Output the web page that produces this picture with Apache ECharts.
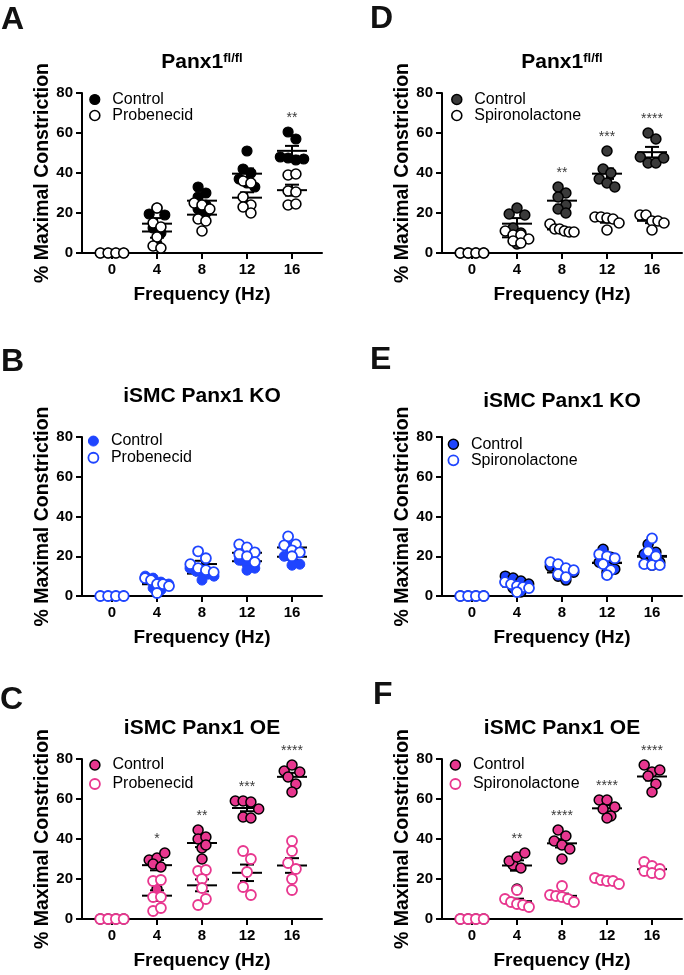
<!DOCTYPE html>
<html>
<head>
<meta charset="utf-8">
<script src="https://cdn.jsdelivr.net/npm/echarts@6/dist/echarts.min.js"></script>
<style>
html,body{margin:0;padding:0;background:#fff;}
#chart{width:684px;height:975px;}
</style>
</head>
<body>
<div id="chart"></div>
<script>
// ---------------- DATA ----------------
const freqs = [0, 4, 8, 12, 16];
const yTicks = [0, 20, 40, 60, 80];

// Panel A: Panx1 fl/fl, Control vs Probenecid (values per frequency)
const A_control    = [[0,0,0,0],[19.5,22.5,19,12.5,10,4.5],[33,30,28,24,22,20],[51,42,40,37,35,33],[60.5,57,48,47.5,46.5,47]];
const A_probenecid = [[0,0,0,0],[22.5,15,13,8,3.5,2.5],[25,24,22,17,16,11],[36,35,28,24,23,20],[39,39.5,31,30.5,24,24.5]];
const A_sig        = ['', '', '', '', '**'];

// Panel D: Panx1 fl/fl, Control vs Spironolactone
const D_control        = [[0,0,0,0],[19.5,22.5,19,12.5,10,4.5],[33,30,28,24,22,20],[51,42,40,37,35,33],[60,57,48,45,45,47.5]];
const D_spironolactone = [[0,0,0,0],[11,9,9,7,6,5],[14.5,12,12,11,10.5,10.5],[18,18,17.5,17,15,11.5],[19,19,16,16,15,11.5]];
const D_sig            = ['', '', '**', '***', '****'];

// Panel B: iSMC Panx1 KO, Control vs Probenecid
const B_control    = [[0,0,0,0],[10,9,7,6,4,3],[14,12.5,12,11,10,8],[23,21,18,16,14,13],[25,23,20,19,16,15.5]];
const B_probenecid = [[0,0,0,0],[9,8,6,6,5,1.5],[22.5,19,16,14,13,12],[26,24.5,22,21,20,17],[30,26,25.5,23,22,20]];
const B_sig        = ['', '', '', '', ''];

// Panel E: iSMC Panx1 KO, Control vs Spironolactone
const E_control        = [[0,0,0,0],[10,9,7.5,6,4,2],[15,13.5,12.5,12,10,8],[23.5,19.5,17,15,13.5,12],[26,22,21,19.5,17,15.5]];
const E_spironolactone = [[0,0,0,0],[7,6,5,4.5,4,2],[17,16,14,13,11,9.5],[21,20,19,16,13,10.5],[29,22.5,20,16,15.5,15.5]];
const E_sig            = ['', '', '', '', ''];

// Panel C: iSMC Panx1 OE, Control vs Probenecid
const C_control    = [[0,0,0,0],[29.5,30.5,33,27.5,26,15],[44.5,40,35.5,41,37,30],[59,59,58.5,55,51,50.5],[74,77,73.5,71,67.5,63.5]];
const C_probenecid = [[0,0,0,0],[19,19.5,11,11,4,5.5],[24,24.5,20,15.5,7,10],[34,30,23.5,16,12],[39,34,28,25,20,14.5]];
const C_sig        = ['', '*', '**', '***', '****'];

// Panel F: iSMC Panx1 OE, Control vs Spironolactone
const F_control        = [[0,0,0,0],[27,29,31,33,25.5,15],[44.5,41.5,39,37,35,30],[59.5,59.5,56,55,51.5,50.5],[77,73.5,74.5,71.5,67.5,63.5]];
const F_spironolactone = [[0,0,0,0],[14.5,10,8.5,7.5,7,6],[16.5,12,11.5,11,10,8.5],[20.5,19.5,19,19,17.5],[28.5,26.5,25,24,23,22.5]];
const F_sig            = ['', '**', '****', '****', '****'];

// ---------------- LAYOUT / STYLE ----------------
const FONT = '"Liberation Sans", Arial, Helvetica, sans-serif';
const BLUE = '#1f45ff';
const PINK = '#e8378f';
const GW = 240;               // grid width (px)
const X_MIN = -8 / 3, X_MAX = 16 + 8 / 3;
const PX_PER_UNIT = GW / (X_MAX - X_MIN);
const SYMBOL = 10, SPACING = 7.8, MAX_ROW = 24, BIN = 4.5;

const panels = [
  {key:'A', letter:'A', lx:1, ly:4, title:'{m|Panx1}{s|fl/fl}', tTop:52, left:82, top:93, h:160,
   ctrl:A_control, trt:A_probenecid, trtName:'Probenecid', sig:A_sig,
   cs:{color:'#000', borderColor:'#000', borderWidth:1.2, opacity:1}, ts:{color:'#fff', borderColor:'#000', borderWidth:1.6, opacity:1},
   lg:{left:89, top:91.5, lh:15}},
  {key:'D', letter:'D', lx:370, ly:3, title:'{m|Panx1}{s|fl/fl}', tTop:52, left:442, top:93, h:160,
   ctrl:D_control, trt:D_spironolactone, trtName:'Spironolactone', sig:D_sig,
   cs:{color:'#3a3a3a', borderColor:'#000', borderWidth:1.5, opacity:1}, ts:{color:'#fff', borderColor:'#000', borderWidth:1.6, opacity:1},
   lg:{left:451, top:91.5, lh:15}},
  {key:'B', letter:'B', lx:1, ly:346, title:'iSMC Panx1 KO', tTop:386, left:82, top:437, h:159,
   ctrl:B_control, trt:B_probenecid, trtName:'Probenecid', sig:B_sig,
   cs:{color:BLUE, borderColor:BLUE, borderWidth:1, opacity:1}, ts:{color:'#fff', borderColor:BLUE, borderWidth:1.8, opacity:1},
   lg:{left:87.5, top:432.7, lh:16.7}},
  {key:'E', letter:'E', lx:370, ly:344, title:'iSMC Panx1 KO', tTop:391, left:442, top:437, h:159,
   ctrl:E_control, trt:E_spironolactone, trtName:'Spironolactone', sig:E_sig,
   cs:{color:BLUE, borderColor:'#000', borderWidth:1.5, opacity:1}, ts:{color:'#fff', borderColor:BLUE, borderWidth:1.8, opacity:1},
   lg:{left:447.5, top:436.3, lh:14}},
  {key:'C', letter:'C', lx:0, ly:684, title:'iSMC Panx1 OE', tTop:718, left:82, top:759, h:160,
   ctrl:C_control, trt:C_probenecid, trtName:'Probenecid', sig:C_sig,
   cs:{color:PINK, borderColor:'#000', borderWidth:1.5, opacity:1}, ts:{color:'#fff', borderColor:PINK, borderWidth:1.8, opacity:1},
   lg:{left:89, top:755.5, lh:19}},
  {key:'F', letter:'F', lx:373, ly:679, title:'iSMC Panx1 OE', tTop:718, left:442, top:759, h:160,
   ctrl:F_control, trt:F_spironolactone, trtName:'Spironolactone', sig:F_sig,
   cs:{color:PINK, borderColor:'#000', borderWidth:1.5, opacity:1}, ts:{color:'#fff', borderColor:PINK, borderWidth:1.8, opacity:1},
   lg:{left:449.5, top:755.5, lh:19}}
];

// ---------------- HELPERS ----------------
function swarmOffsets(vals) {
  const idx = vals.map((v, i) => i).sort((a, b) => vals[b] - vals[a]);
  const off = new Array(vals.length).fill(0);
  let i = 0;
  while (i < idx.length) {
    let j = i;
    const start = vals[idx[i]];
    while (j < idx.length && start - vals[idx[j]] < BIN) j++;
    const bin = idx.slice(i, j).sort((a, b) => a - b);
    const k = bin.length;
    const sp = k > 1 ? Math.min(SPACING, MAX_ROW / (k - 1)) : 0;
    bin.forEach((p, n) => { off[p] = (n - (k - 1) / 2) * sp; });
    i = j;
  }
  return off;
}
function points(groups) {
  const out = [];
  groups.forEach((vals, fi) => {
    const off = swarmOffsets(vals);
    vals.forEach((v, i) => out.push([freqs[fi] + off[i] / PX_PER_UNIT, v]));
  });
  return out;
}
function stats(groups) {
  return groups.map((vals, fi) => {
    const n = vals.length;
    const m = vals.reduce((a, b) => a + b, 0) / n;
    const sd = n > 1 ? Math.sqrt(vals.reduce((a, b) => a + (b - m) * (b - m), 0) / (n - 1)) : 0;
    return [freqs[fi], m, sd / Math.sqrt(n)];
  });
}
function renderBar(params, api) {
  const x = api.value(0), m = api.value(1), s = api.value(2);
  const p = api.coord([x, m]), pt = api.coord([x, m + s]), pb = api.coord([x, m - s]);
  const st = {stroke:'#000', lineWidth:2, fill:null};
  const MW = 15, CW = 7;
  return {type:'group', children:[
    {type:'line', shape:{x1:p[0]-MW, y1:p[1], x2:p[0]+MW, y2:p[1]}, style:st},
    {type:'line', shape:{x1:p[0]-CW, y1:pt[1], x2:p[0]+CW, y2:pt[1]}, style:st},
    {type:'line', shape:{x1:p[0]-CW, y1:pb[1], x2:p[0]+CW, y2:pb[1]}, style:st},
    {type:'line', shape:{x1:p[0], y1:pt[1], x2:p[0], y2:pb[1]}, style:st}
  ]};
}

// ---------------- OPTION ----------------
const titles = [], legends = [], grids = [], xAxes = [], yAxes = [], series = [];
const axisColor = '#000';
panels.forEach((P, gi) => {
  const cx = P.left + GW / 2;
  titles.push({
    text: P.title, left: cx, top: P.tTop, textAlign: 'center', padding: 0,
    textStyle: {fontFamily: FONT, fontWeight: 'bold', fontSize: 21, color: '#000',
      rich: {m: {fontFamily: FONT, fontWeight: 'bold', fontSize: 21, color: '#000', verticalAlign: 'bottom'},
             s: {fontFamily: FONT, fontWeight: 'bold', fontSize: 13, color: '#000', verticalAlign: 'top'}}}
  });
  titles.push({
    text: P.letter, left: P.lx, top: P.ly, padding: 0,
    textStyle: {fontFamily: FONT, fontWeight: 'bold', fontSize: 32, color: '#111'}
  });
  const cName = P.key + '|Control', tName = P.key + '|' + P.trtName;
  legends.push({
    left: P.lg.left, top: P.lg.top, orient: 'vertical', padding: 0, itemGap: 0,
    itemWidth: 25, itemHeight: 10, selectedMode: false,
    formatter: n => n.split('|')[1],
    textStyle: {fontFamily: FONT, fontSize: 16, color: '#000', lineHeight: P.lg.lh},
    data: [{name: cName, icon: 'circle', itemStyle: P.cs}, {name: tName, icon: 'circle', itemStyle: P.ts}]
  });
  grids.push({left: P.left, top: P.top, width: GW, height: P.h});
  xAxes.push({
    gridIndex: gi, type: 'value', min: X_MIN, max: X_MAX,
    axisLine: {show: true, onZero: false, lineStyle: {color: axisColor, width: 2}},
    axisTick: {show: true, customValues: freqs, length: 6, lineStyle: {color: axisColor, width: 2}},
    axisLabel: {customValues: freqs, margin: 9, color: '#000', fontSize: 15, fontWeight: 'bold', fontFamily: FONT},
    splitLine: {show: false},
    name: 'Frequency (Hz)', nameLocation: 'middle', nameGap: 32,
    nameTextStyle: {fontFamily: FONT, fontSize: 19, fontWeight: 'bold', color: '#000'}
  });
  yAxes.push({
    gridIndex: gi, type: 'value', min: 0, max: 80, interval: 20,
    axisLine: {show: true, onZero: false, lineStyle: {color: axisColor, width: 2}},
    axisTick: {show: true, length: 6, lineStyle: {color: axisColor, width: 2}},
    axisLabel: {margin: 9, color: '#000', fontSize: 15, fontWeight: 'bold', fontFamily: FONT,
      formatter: v => yTicks.includes(v) ? String(v) : ''},
    splitLine: {show: false},
    name: '% Maximal Constriction', nameLocation: 'middle', nameGap: 28,
    nameTextStyle: {fontFamily: FONT, fontSize: 19.5, fontWeight: 'bold', color: '#000'}
  });
  series.push({type: 'scatter', name: cName, xAxisIndex: gi, yAxisIndex: gi, symbol: 'circle', symbolSize: SYMBOL,
    itemStyle: P.cs, data: points(P.ctrl), clip: false, silent: true});
  series.push({type: 'scatter', name: tName, xAxisIndex: gi, yAxisIndex: gi, symbol: 'circle', symbolSize: SYMBOL,
    itemStyle: P.ts, data: points(P.trt), clip: false, silent: true});
  series.push({type: 'custom', name: P.key + '|bars', xAxisIndex: gi, yAxisIndex: gi, renderItem: renderBar,
    data: stats(P.ctrl).concat(stats(P.trt)), encode: {x: 0, y: 1}, clip: false, silent: true});
  const sigData = [];
  P.sig.forEach((t, fi) => {
    if (!t) return;
    const mx = Math.max(...P.ctrl[fi], ...P.trt[fi]);
    sigData.push([freqs[fi], mx + 7, t]);
  });
  series.push({type: 'scatter', name: P.key + '|sig', xAxisIndex: gi, yAxisIndex: gi, symbolSize: 1,
    itemStyle: {color: 'rgba(0,0,0,0)'}, data: sigData, clip: false, silent: true,
    label: {show: true, position: 'inside', formatter: p => p.data[2], fontFamily: FONT, fontSize: 14, color: '#000'}});
});

const chart = echarts.init(document.getElementById('chart'), null, {renderer: 'canvas'});
chart.setOption({
  animation: false, backgroundColor: '#fff',
  title: titles, legend: legends, grid: grids, xAxis: xAxes, yAxis: yAxes, series: series
});
</script>
</body>
</html>
